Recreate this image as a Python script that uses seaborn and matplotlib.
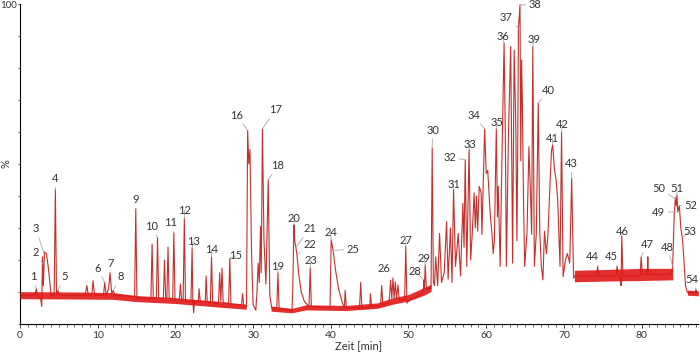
#!/usr/bin/env python3
# Chromatogram with labelled peaks (1-54), recreated with seaborn.

import matplotlib

matplotlib.use("Agg")
import matplotlib.pyplot as plt
from matplotlib.ticker import MultipleLocator
import pandas as pd
import seaborn as sns

# trace vertices (Zeit [min], %), in four stretches
trace_a = [
    (0.0, 9.0), (1.0, 9.0), (1.9, 9.0), (2.1, 11.0), (2.3, 8.5), (2.65, 8.0),
    (2.8, 5.5), (2.9, 21.0), (3.0, 12.0), (3.15, 22.5), (3.4, 22.0),
    (3.6, 18.5), (3.8, 14.0), (4.0, 9.0), (4.4, 9.0), (4.55, 42.0),
    (4.7, 9.0), (4.85, 10.5), (5.1, 9.0), (8.4, 9.0), (8.6, 12.0), (8.8, 9.0),
    (9.25, 9.0), (9.4, 13.5), (9.6, 9.0), (10.75, 9.0), (10.9, 13.0),
    (11.1, 9.0), (11.4, 11.0), (11.6, 16.0), (11.8, 9.5), (12.0, 10.5),
    (12.2, 9.0), (14.75, 8.5), (14.9, 36.0), (15.05, 8.0), (16.85, 8.0),
    (17.0, 25.0), (17.15, 8.0), (17.55, 8.0), (17.7, 27.0), (17.85, 8.0),
    (18.45, 8.0), (18.6, 20.0), (18.75, 8.0), (18.9, 8.0), (19.05, 24.0),
    (19.2, 8.0), (19.65, 8.0), (19.8, 28.5), (19.95, 7.5), (20.5, 7.5),
    (20.65, 12.5), (20.8, 7.5), (21.0, 7.5), (21.15, 33.0), (21.3, 7.0),
    (22.0, 7.0), (22.15, 23.8), (22.25, 7.0), (22.35, 3.5), (22.45, 7.0),
    (22.95, 7.0), (23.05, 11.0), (23.2, 7.0), (23.85, 7.0), (23.95, 15.0),
    (24.1, 7.0), (24.5, 6.5), (24.65, 21.0), (24.8, 6.5), (25.55, 6.5),
    (25.7, 16.0), (25.85, 7.0), (26.0, 17.5), (26.15, 6.5), (26.85, 6.5),
    (27.0, 20.5), (27.15, 6.0), (28.5, 6.0), (28.65, 9.5), (28.8, 5.5),
    (29.15, 5.5), (29.3, 60.5), (29.45, 50.0), (29.6, 54.5), (29.8, 22.0),
    (30.0, 6.0), (30.35, 4.3),
]
trace_b = [
    (30.5, 10.0), (30.65, 19.0), (30.8, 13.0), (30.95, 30.5), (31.05, 16.0),
    (31.2, 61.0), (31.4, 26.0), (31.65, 12.5), (31.95, 45.0), (32.15, 9.0),
    (32.4, 5.0), (33.05, 5.0), (33.2, 16.0), (33.35, 4.5), (34.5, 4.5),
    (35.0, 4.0), (35.1, 10.0), (35.25, 31.0), (35.35, 26.0), (35.5, 24.0),
    (35.65, 21.5), (35.9, 15.0), (36.2, 10.0), (36.6, 7.0), (37.2, 5.5),
    (37.35, 17.5), (37.5, 5.5), (39.9, 5.0), (40.05, 26.2), (40.3, 23.0),
    (40.6, 17.0), (41.0, 11.0), (41.5, 6.5), (41.75, 5.0), (41.85, 10.5),
    (42.0, 5.0), (43.7, 5.0), (43.85, 13.0), (44.0, 5.0), (45.0, 5.0),
    (45.1, 9.5), (45.25, 5.5), (46.4, 5.5), (46.55, 12.0), (46.7, 6.0),
    (47.5, 6.5), (47.7, 13.7), (47.85, 8.0), (48.0, 14.3), (48.15, 8.0),
    (48.3, 13.2), (48.45, 8.0), (48.65, 12.2), (48.8, 7.5), (49.5, 7.5),
    (49.65, 24.2), (49.8, 6.5), (50.3, 8.0), (51.0, 8.5), (51.9, 10.0),
    (52.0, 13.8), (52.05, 11.0), (52.15, 18.4), (52.3, 11.0), (52.9, 11.0),
]
trace_c = [
    (53.05, 55.0), (53.2, 13.0), (53.35, 12.0), (53.5, 21.0), (53.75, 12.0),
    (54.0, 28.3), (54.25, 13.0), (54.6, 16.0), (54.9, 32.0), (55.1, 14.0),
    (55.4, 30.0), (55.6, 13.0), (55.8, 42.0), (56.05, 18.0), (56.4, 28.3),
    (56.7, 15.0), (57.0, 37.7), (57.15, 24.0), (57.3, 51.3), (57.5, 18.0),
    (57.8, 54.4), (58.0, 20.0), (58.2, 28.0), (58.45, 41.0), (58.6, 30.0),
    (58.75, 40.0), (58.9, 29.0), (59.1, 43.0), (59.35, 41.0), (59.45, 28.0),
    (59.8, 61.0), (60.0, 47.0), (60.2, 48.0), (60.5, 35.0), (60.75, 28.0),
    (60.9, 22.0), (61.05, 26.0), (61.3, 61.0), (61.45, 33.5), (61.55, 43.0),
    (61.8, 18.0), (62.0, 48.0), (62.3, 87.7), (62.45, 61.7), (62.6, 18.0),
    (62.85, 57.5), (63.15, 86.7), (63.3, 49.0), (63.4, 19.0), (63.6, 85.6),
    (63.8, 63.7), (63.95, 26.0), (64.05, 52.0), (64.15, 92.5), (64.35, 99.7),
    (64.45, 51.0), (64.55, 82.5), (64.65, 70.0), (64.8, 39.0), (64.95, 18.0),
    (65.25, 28.4), (65.5, 55.4), (65.7, 41.0), (65.85, 28.0), (66.0, 86.7),
    (66.2, 18.0), (66.45, 28.4), (66.7, 69.0), (66.9, 28.4), (67.1, 18.0),
    (67.3, 13.8), (67.5, 29.0), (67.75, 22.0), (67.95, 28.0), (68.2, 43.0),
    (68.4, 54.0), (68.55, 56.0), (68.8, 48.0), (69.0, 45.0), (69.2, 38.8),
    (69.35, 28.0), (69.5, 18.0), (69.7, 60.0), (69.9, 14.8), (70.2, 20.0),
    (70.45, 22.0), (70.75, 19.0), (71.0, 45.5), (71.25, 14.3),
]
trace_d = [
    (71.4, 15.0), (74.2, 15.0), (74.35, 18.0), (74.5, 15.0), (76.7, 15.0),
    (76.85, 18.0), (77.0, 15.0), (77.3, 14.0), (77.35, 12.0), (77.45, 27.5),
    (77.6, 15.0), (79.8, 15.0), (79.95, 21.0), (80.1, 15.5), (80.75, 15.5),
    (80.8, 21.0), (80.85, 15.5), (83.8, 15.5), (84.0, 18.0), (84.2, 34.0),
    (84.35, 39.5), (84.45, 37.0), (84.55, 40.3), (84.65, 35.0), (84.85, 37.0),
    (85.05, 30.0), (85.25, 27.0), (85.45, 20.0), (85.65, 12.0), (85.9, 9.8),
    (86.9, 9.8), (87.0, 10.8), (87.1, 9.8), (87.3, 9.6),
]

# baseline noise envelope (Zeit, lower %, upper %)
noise_a = [(0.0, 7.9, 10.1), (8.0, 7.8, 10.0), (12.0, 7.7, 9.8),
           (15.0, 7.0, 8.9), (20.0, 6.4, 8.2), (25.0, 5.4, 7.2), (29.1, 4.6, 6.2)]
noise_b = [(32.3, 4.0, 5.6), (35.0, 3.5, 4.9), (36.8, 4.4, 6.0),
           (42.0, 4.2, 5.8), (46.0, 4.9, 6.6), (48.0, 6.2, 8.2),
           (50.0, 7.2, 9.2), (52.0, 9.0, 11.4), (52.9, 10.2, 12.4)]
noise_c = [(71.35, 13.2, 16.8), (75.0, 13.4, 17.0), (80.0, 13.6, 17.4),
           (84.0, 13.8, 17.4)]
noise_d = [(85.9, 9.0, 10.6), (87.3, 8.8, 10.4)]

# peak numbers, the point each one marks, and where its number is written
peak_ids = list(range(1, 55))
peak_t = [2.1, 2.9, 3.1, 4.55, 4.85, 10.9, 11.6, 12.0, 14.9, 17.7,
          19.8, 21.15, 22.15, 24.65, 27.0, 29.3, 31.2, 31.95, 33.2, 35.25,
          35.5, 35.65, 37.35, 40.05, 40.3, 48.0, 49.65, 52.0, 52.15, 53.05,
          55.8, 57.3, 57.8, 59.8, 61.3, 62.3, 64.15, 64.35, 66.0, 66.7,
          68.55, 69.7, 71.0, 74.35, 76.85, 77.45, 79.95, 84.0, 84.4, 84.4,
          84.55, 84.85, 85.25, 87.0]
peak_p = [11.0, 19.0, 22.0, 42.0, 10.5, 13.0, 16.0, 10.5, 36.0, 27.0,
          28.5, 33.0, 23.8, 21.0, 20.5, 60.5, 61.0, 45.0, 16.0, 31.0,
          24.0, 21.5, 17.5, 26.2, 23.0, 14.3, 24.2, 13.8, 18.4, 55.0,
          42.0, 51.3, 54.4, 61.0, 61.0, 87.7, 92.5, 99.7, 86.7, 69.0,
          56.0, 60.0, 45.5, 18.0, 18.0, 27.5, 21.0, 18.0, 35.0, 39.0,
          40.3, 37.0, 27.0, 10.8]
label_t = [1.67, 2.06, 2.06, 4.5, 5.8, 10.0, 11.7, 13.0, 14.9, 16.9,
           19.4, 21.2, 22.3, 24.7, 27.8, 27.9, 32.9, 33.2, 33.2, 35.3,
           37.3, 37.3, 37.45, 40.0, 42.9, 46.8, 49.7, 50.8, 52.0, 53.1,
           55.8, 55.3, 57.9, 58.4, 61.4, 62.2, 62.6, 66.3, 66.2, 68.0,
           68.5, 69.8, 71.0, 73.7, 76.1, 77.5, 80.7, 83.3, 82.2, 82.2,
           84.55, 86.35, 86.2, 86.5]
label_p = [14.7, 22.5, 29.7, 45.5, 14.7, 17.5, 18.8, 14.7, 38.8, 30.6,
           31.6, 35.5, 25.8, 23.4, 21.3, 65.3, 66.9, 49.4, 18.0, 33.0,
           29.7, 25.0, 19.8, 28.6, 23.4, 17.2, 26.2, 16.5, 20.6, 60.6,
           43.75, 52.1, 56.25, 65.3, 63.1, 89.7, 95.9, 99.9, 89.0, 73.1,
           58.1, 62.5, 50.2, 21.0, 21.0, 28.8, 25.0, 24.0, 35.0, 42.5,
           42.5, 36.9, 29.0, 14.0]

trace_color = "#c3302c"
noise_color = "#e01818"
text_color = "#333333"

sns.set_theme(style="ticks")
plt.rcParams["font.family"] = ["Lato", "DejaVu Sans"]

df = pd.DataFrame(trace_a + trace_b + trace_c + trace_d, columns=["Zeit", "Prozent"])

fig = plt.figure(figsize=(7.0, 3.56), dpi=100)
ax = fig.add_axes([20 / 700, 32 / 356, 678 / 700, 320 / 356])

sns.lineplot(data=df, x="Zeit", y="Prozent", estimator=None, sort=False,
             color=trace_color, linewidth=0.8, ax=ax)

for band in (noise_a, noise_b, noise_c, noise_d):
    bt, lo, hi = zip(*band)
    ax.fill_between(bt, lo, hi, color=noise_color, alpha=0.9, linewidth=0, zorder=3)

for pid, pt, pp, lt, lp in zip(peak_ids, peak_t, peak_p, label_t, label_p):
    ax.annotate(str(pid), xy=(pt, pp), xytext=(lt, lp), ha="center", va="center",
                fontsize=8, color=text_color, zorder=5,
                arrowprops=dict(arrowstyle="-", color="#a8a8a8", lw=0.6,
                                shrinkA=0, shrinkB=0))

ax.set_xlim(0, 87.26)
ax.set_ylim(0, 100)
ax.set_xticks(range(0, 90, 10))
ax.xaxis.set_minor_locator(MultipleLocator(1))
ax.set_yticks([100])
ax.yaxis.set_minor_locator(MultipleLocator(10))
ax.tick_params(which="major", direction="out", length=3, width=0.6,
               labelsize=7.5, labelcolor=text_color, pad=2)
ax.tick_params(axis="y", which="major", length=1.5, pad=0.5, labelsize=7)
ax.tick_params(which="minor", direction="out", length=1.8, width=0.5)
ax.set_xlabel("Zeit [min]", fontsize=8, color=text_color, labelpad=0)
ax.set_ylabel("%", fontsize=8, color=text_color)
ax.yaxis.set_label_coords(-0.013, 0.5)
sns.despine(ax=ax)
for side in ("left", "bottom"):
    ax.spines[side].set_color("black")
    ax.spines[side].set_linewidth(0.8)

fig.savefig("out.png", dpi=100)
